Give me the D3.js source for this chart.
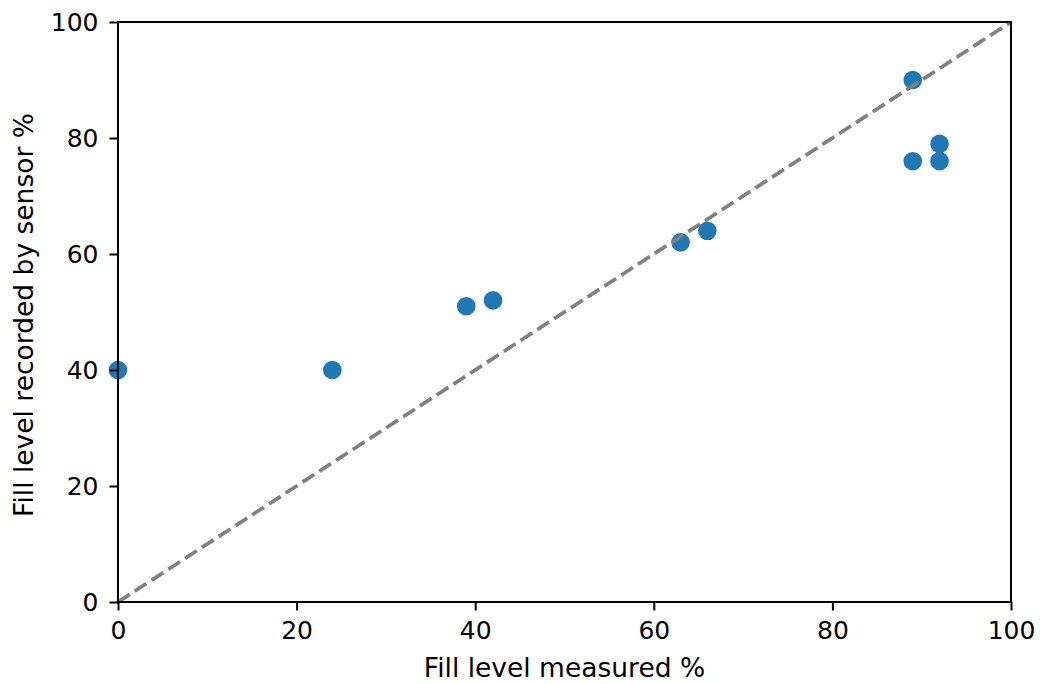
<!DOCTYPE html>
<html>
<head>
<meta charset="utf-8">
<script src="https://cdn.jsdelivr.net/npm/d3@7"></script>
<style>
  body { margin: 0; background: #fff; }
  text { font-family: "DejaVu Sans", sans-serif; fill: #000; }
</style>
</head>
<body>
<svg width="1040" height="684"></svg>
<script>
var measured = [0, 24, 39, 42, 63, 66, 89, 89, 92, 92],
    recorded = [40, 40, 51, 52, 62, 64, 90, 76, 79, 76],
    xTicks = [0, 20, 40, 60, 80, 100],
    yTicks = [0, 20, 40, 60, 80, 100];

var svg = d3.select("svg"),
    margin = {left: 118, right: 29, top: 22, bottom: 82},
    width = 1040 - margin.left - margin.right,
    height = 684 - margin.top - margin.bottom;

var x = d3.scaleLinear().domain([0, 100]).range([0, width]),
    y = d3.scaleLinear().domain([0, 100]).range([height, 0]);

var g = svg.append("g").attr("transform", "translate(" + margin.left + "," + margin.top + ")");

// points
g.selectAll("circle")
  .data(measured)
  .enter().append("circle")
    .attr("cx", function(d) { return x(d); })
    .attr("cy", function(d, i) { return y(recorded[i]); })
    .attr("r", 9.3)
    .attr("fill", "#1f77b4");

// 1:1 line
g.append("line")
    .attr("x1", x(0)).attr("y1", y(0))
    .attr("x2", x(100)).attr("y2", y(100))
    .attr("stroke", "#808080")
    .attr("stroke-width", 3.7)
    .attr("stroke-dasharray", "14,6");

// frame
g.append("rect")
    .attr("width", width).attr("height", height)
    .attr("fill", "none").attr("stroke", "#000").attr("stroke-width", 2);

var xAxis = g.append("g")
    .attr("transform", "translate(0," + height + ")")
    .call(d3.axisBottom(x).tickValues(xTicks).tickSize(8.5).tickPadding(11));
var yAxis = g.append("g")
    .call(d3.axisLeft(y).tickValues(yTicks).tickSize(8.5).tickPadding(11));

[xAxis, yAxis].forEach(function(a) {
  a.select(".domain").remove();
  a.selectAll(".tick line").attr("stroke", "#000").attr("stroke-width", 2);
  a.selectAll(".tick text").style("font-size", "25px").style("font-family", "DejaVu Sans");
});

svg.append("text")
    .attr("x", margin.left + width / 2)
    .attr("y", 677)
    .attr("text-anchor", "middle")
    .style("font-size", "26.5px")
    .text("Fill level measured %");

svg.append("text")
    .attr("transform", "translate(33," + (margin.top + height / 2 + 3) + ") rotate(-90)")
    .attr("text-anchor", "middle")
    .style("font-size", "26.5px")
    .text("Fill level recorded by sensor %");
</script>
</body>
</html>
